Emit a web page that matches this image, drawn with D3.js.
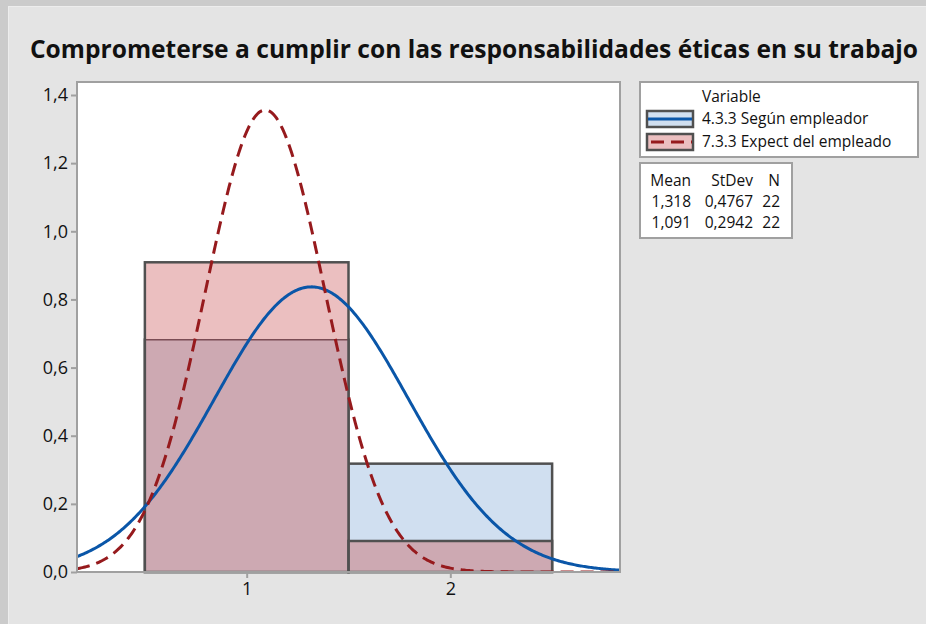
<!DOCTYPE html>
<html>
<head>
<meta charset="utf-8">
<script src="https://cdn.jsdelivr.net/npm/d3@7"></script>
<style>
  body { margin: 0; background: #cbcbcb; }
  text { font-family: "Open Sans", "Noto Sans", sans-serif; }
</style>
</head>
<body>
<div id="chart"></div>
<script>
// Data
let titleText = "Comprometerse a cumplir con las responsabilidades éticas en su trabajo";
let seriesNames = ["4.3.3 Según empleador", "7.3.3 Expect del empleado"];
let binEdges = [0.5, 1.5, 2.5];
let blueDensity = [0.682, 0.318];
let redDensity = [0.909, 0.091];
let means = [1.318, 1.091];
let stdevs = [0.4767, 0.2942];
let counts = [22, 22];
let meanLabels = ["1,318", "1,091"];
let stdevLabels = ["0,4767", "0,2942"];
let xTicks = [1, 2];
let yTicks = [0, 0.2, 0.4, 0.6, 0.8, 1.0, 1.2, 1.4];

let width = 926, height = 624;
let plot = {left: 77, right: 620, top: 82, bottom: 572};
let blueFill = "#d0dff0", pinkFill = "#ebbfc0", mauveFill = "#cda9b2";
let outline = "#505050";

let svg = d3.select("#chart").append("svg")
    .attr("width", width)
    .attr("height", height);

// outer frame
svg.append("rect").attr("x", 0).attr("y", 0).attr("width", width).attr("height", height).attr("fill", "#cbcbcb");
svg.append("rect").attr("x", 8).attr("y", 6).attr("width", width - 8).attr("height", height - 6).attr("fill", "#ededed");
svg.append("rect").attr("x", 9).attr("y", 7).attr("width", width - 9).attr("height", height - 7).attr("fill", "#e4e4e4");

// title, squeezed to the width it has in the picture
let title = svg.append("text")
    .attr("x", 474)
    .attr("y", 58)
    .attr("text-anchor", "middle")
    .attr("font-size", "24px")
    .attr("font-weight", "bold")
    .attr("fill", "#111")
    .text(titleText);
let tw = title.node().getComputedTextLength();
if (tw > 0) title.attr("font-size", (24 * 888 / tw).toFixed(2) + "px");

let x = d3.scaleLinear().domain([1 / 6, 17 / 6]).range([plot.left, plot.right]);
let y = d3.scaleLinear().domain([0, 1.4]).range([plot.bottom, 95]);

svg.append("rect")
    .attr("x", plot.left).attr("y", plot.top)
    .attr("width", plot.right - plot.left).attr("height", plot.bottom - plot.top)
    .attr("fill", "#fff");

let g = svg.append("g");

let bins = d3.range(blueDensity.length).map(function(i) {
    return {x0: binEdges[i], x1: binEdges[i + 1], blue: blueDensity[i], red: redDensity[i]};
});

function barRects(cls, h, fill, stroke, sw) {
    g.selectAll("." + cls)
        .data(bins)
        .enter().append("rect")
        .attr("class", cls)
        .attr("x", function(d) { return x(d.x0); })
        .attr("y", function(d) { return y(h(d)); })
        .attr("width", function(d) { return x(d.x1) - x(d.x0); })
        .attr("height", function(d) { return y(0) - y(h(d)); })
        .attr("fill", fill)
        .attr("stroke", stroke)
        .attr("stroke-width", sw);
}

// blue histogram, red histogram, and their overlap
barRects("blueBar", function(d) { return d.blue; }, blueFill, outline, 2.5);
barRects("redBar", function(d) { return d.red; }, pinkFill, "none", 0);
barRects("overlap", function(d) { return Math.min(d.blue, d.red); }, mauveFill, "none", 0);

// blue bar tops that sit inside the red bars show through faintly
g.selectAll(".hiddenTop")
    .data(bins.filter(function(d) { return d.blue < d.red; }))
    .enter().append("line")
    .attr("class", "hiddenTop")
    .attr("x1", function(d) { return x(d.x0); })
    .attr("x2", function(d) { return x(d.x1); })
    .attr("y1", function(d) { return y(d.blue); })
    .attr("y2", function(d) { return y(d.blue); })
    .attr("stroke", "#7a4c54")
    .attr("stroke-width", 1.5);

barRects("redOutline", function(d) { return d.red; }, "none", outline, 2.5);

// fitted normal curves
function normalPdf(v, m, s) {
    return Math.exp(-0.5 * Math.pow((v - m) / s, 2)) / (s * Math.sqrt(2 * Math.PI));
}
let xs = d3.range(0, 401).map(function(i) { return 1 / 6 + i * (8 / 3) / 400; });
let line = d3.line()
    .x(function(d) { return x(d[0]); })
    .y(function(d) { return y(d[1]); });

svg.append("clipPath").attr("id", "plotClip")
    .append("rect")
    .attr("x", plot.left).attr("y", plot.top)
    .attr("width", plot.right - plot.left).attr("height", plot.bottom - plot.top);

g.append("path")
    .datum(xs.map(function(v) { return [v, normalPdf(v, means[0], stdevs[0])]; }))
    .attr("d", line)
    .attr("clip-path", "url(#plotClip)")
    .attr("fill", "none")
    .attr("stroke", "#0a56a8")
    .attr("stroke-width", 3);

g.append("path")
    .datum(xs.map(function(v) { return [v, normalPdf(v, means[1], stdevs[1])]; }))
    .attr("d", line)
    .attr("clip-path", "url(#plotClip)")
    .attr("fill", "none")
    .attr("stroke", "#961a1d")
    .attr("stroke-width", 3)
    .attr("stroke-dasharray", "13,7");

// plot frame
svg.append("rect")
    .attr("x", plot.left).attr("y", plot.top)
    .attr("width", plot.right - plot.left).attr("height", plot.bottom - plot.top)
    .attr("fill", "none")
    .attr("stroke", "#a0a0a0")
    .attr("stroke-width", 2);

// axes
let yAxis = svg.append("g")
    .attr("transform", "translate(" + plot.left + ",0)")
    .call(d3.axisLeft(y).tickValues(yTicks).tickSize(6).tickPadding(3)
        .tickFormat(function(d) { return d3.format(".1f")(d).replace(".", ","); }));
let xAxis = svg.append("g")
    .attr("transform", "translate(0," + plot.bottom + ")")
    .call(d3.axisBottom(x).tickValues(xTicks).tickSize(6).tickPadding(4)
        .tickFormat(d3.format("d")));
[yAxis, xAxis].forEach(function(ax) {
    ax.attr("font-size", null).attr("font-family", null);
    ax.select(".domain").remove();
    ax.selectAll(".tick line").attr("stroke", "#a0a0a0").attr("stroke-width", 2);
    ax.selectAll(".tick text").style("font-size", "18px").attr("fill", "#111");
});

// legend
let legendFont = "15.5px";
let legend = svg.append("g");
legend.append("rect")
    .attr("x", 640).attr("y", 82).attr("width", 278).attr("height", 75)
    .attr("fill", "#fff").attr("stroke", "#a0a0a0").attr("stroke-width", 2);
legend.append("text")
    .attr("x", 702).attr("y", 102)
    .style("font-size", legendFont).attr("fill", "#111")
    .text("Variable");

let swatches = [
    {fill: blueFill, stroke: "#0a56a8", dash: null},
    {fill: pinkFill, stroke: "#961a1d", dash: "13,7"}
];
seriesNames.forEach(function(name, i) {
    let yy = 111 + i * 23;
    legend.append("rect")
        .attr("x", 647).attr("y", yy).attr("width", 46).attr("height", 16)
        .attr("fill", swatches[i].fill)
        .attr("stroke", outline).attr("stroke-width", 2.5);
    legend.append("line")
        .attr("x1", 648).attr("x2", 692)
        .attr("y1", yy + 8).attr("y2", yy + 8)
        .attr("stroke", swatches[i].stroke)
        .attr("stroke-width", 3)
        .attr("stroke-dasharray", swatches[i].dash)
        .attr("stroke-dashoffset", -3);
    legend.append("text")
        .attr("x", 702).attr("y", yy + 13)
        .style("font-size", legendFont).attr("fill", "#111")
        .text(name);
});

// stats table
let stats = svg.append("g");
stats.append("rect")
    .attr("x", 640).attr("y", 163).attr("width", 152).attr("height", 75)
    .attr("fill", "#fff").attr("stroke", "#a0a0a0").attr("stroke-width", 2);
let cols = [{x: 691, label: "Mean"}, {x: 753, label: "StDev"}, {x: 780, label: "N"}];
cols.forEach(function(c) {
    stats.append("text")
        .attr("x", c.x).attr("y", 186)
        .attr("text-anchor", "end")
        .style("font-size", legendFont).attr("fill", "#111")
        .text(c.label);
});
meanLabels.forEach(function(m, i) {
    let yy = 207 + i * 21;
    let row = [m, stdevLabels[i], String(counts[i])];
    row.forEach(function(v, j) {
        stats.append("text")
            .attr("x", cols[j].x).attr("y", yy)
            .attr("text-anchor", "end")
            .style("font-size", legendFont).attr("fill", "#111")
            .text(v);
    });
});
</script>
</body>
</html>
